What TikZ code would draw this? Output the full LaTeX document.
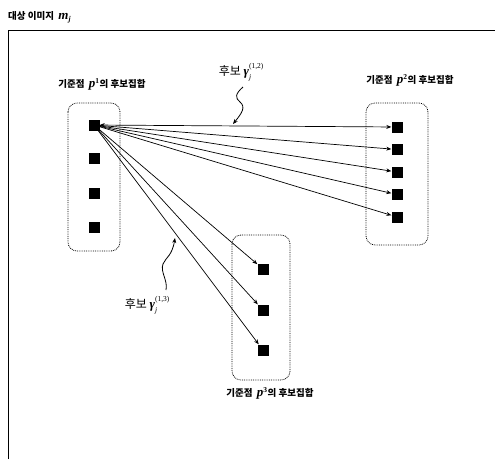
\documentclass[tikz,border=0pt]{standalone}
\usepackage{fontspec}
\newfontfamily\kr{Noto Sans CJK KR}
\newfontfamily\tms{Liberation Serif}
\usetikzlibrary{arrows.meta}
\newcommand\bsym[1]{\mbox{\tms\bfseries\itshape\fontsize{13}{14}\selectfont #1}}
\newcommand\smt[1]{\mbox{\tms\fontsize{7.5}{8}\selectfont #1}}
\newcommand\smi[1]{\mbox{\tms\itshape\fontsize{7.5}{8}\selectfont #1}}
% symbol with raised superscript and lowered subscript
\newcommand\supsub[3]{\bsym{#1}\rlap{\raisebox{7pt}{\smt{#2}}}\raisebox{-3.5pt}{\smi{#3}}\hspace{13pt}}
\tikzset{
  pt/.style={fill,minimum size=11pt,inner sep=0pt},
  setbox/.style={draw,densely dotted,rounded corners=9pt,line width=.8pt},
  lbl/.style={font=\kr\bfseries\fontsize{9.5}{11}\selectfont,inner sep=0pt},
  cand/.style={font=\kr\fontsize{12}{14}\selectfont,inner sep=0pt},
  link/.style={-{Stealth[length=5pt,width=4pt]},line width=.7pt},
}
\begin{document}
\begin{tikzpicture}[x=1pt,y=-1pt]
 \useasboundingbox (0,0) rectangle (495,459);
 % frame of the target image
 \node[lbl,anchor=west] (title) at (8,17) {대상 이미지 \ $\bsym{m}_{\smi{j}}$};
 \draw[line width=1pt] (8,459)--(8,30)--(495,30);
 % candidate sets
 \draw[setbox] (68,103) rectangle (120,251);
 \draw[setbox] (366,103) rectangle (428,245);
 \draw[setbox] (232,235) rectangle (290,380);
 \node[lbl] (l1) at (102,84) {기준점 \ $\bsym{p}^{\smt{1}}$의 후보집합};
 \node[lbl] (l2) at (410,80) {기준점 \ $\bsym{p}^{\smt{2}}$의 후보집합};
 \node[lbl] (l3) at (270,393) {기준점 \ $\bsym{p}^{\smt{3}}$의 후보집합};
 \foreach \y [count=\i] in {125,158,193,227}
   \node[pt] (a\i) at (94,\y) {};
 \foreach \y [count=\i] in {127,149.5,172,194.5,217}
   \node[pt] (b\i) at (397,\y) {};
 \foreach \y [count=\i] in {269,310,350}
   \node[pt] (c\i) at (263,\y) {};
 % correspondences
 \draw[link,{Stealth[length=5pt,width=4pt]}-{Stealth[length=5pt,width=4pt]}] (a1)--(b1);
 \foreach \i in {2,...,5}
   \draw[link] (a1)--(b\i);
 \foreach \i in {1,2,3}
   \draw[link] (a1)--(c\i);
 % candidate labels
 \node[cand] (g12) at (235,72) {후보 \supsub{γ}{(1,2)}{j}};
 \coordinate (q12) at (233,124);
 \draw[link,line width=.8pt] (243,87) .. controls (235,94) and (235,98) .. (240,102)
   .. controls (246,107) and (242,113) .. (q12);
 \node[cand] (g13) at (141,305) {후보 \supsub{γ}{(1,3)}{j}};
 \coordinate (q13) at (175,238);
 \draw[link,line width=.8pt] (166,290) .. controls (168,280) and (160,272) .. (163,264)
   .. controls (166,257) and (172,256) .. (q13);
\end{tikzpicture}
\end{document}
